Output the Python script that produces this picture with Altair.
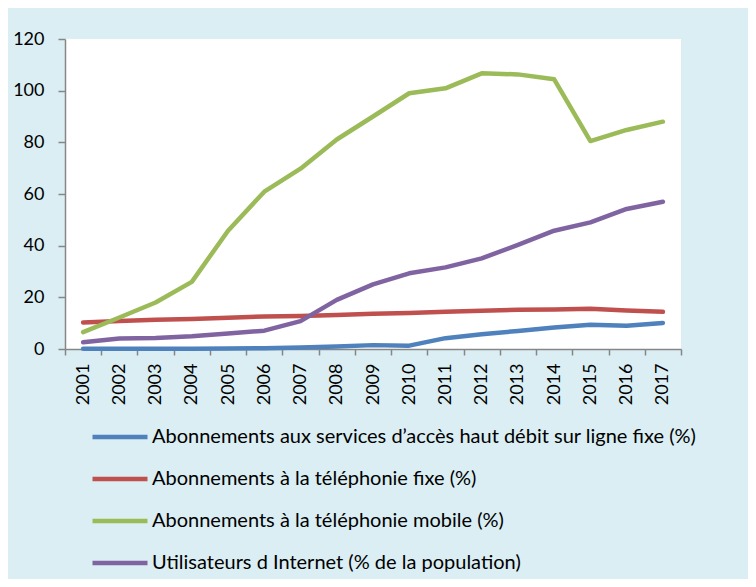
import altair as alt
import pandas as pd

years = [str(y) for y in range(2001, 2018)]

series = [
    "Abonnements aux services d’accès haut débit sur ligne fixe (%)",
    "Abonnements à la téléphonie fixe (%)",
    "Abonnements à la téléphonie mobile (%)",
    "Utilisateurs d Internet (% de la population)",
]

haut_debit = [0.1, 0.1, 0.1, 0.1, 0.2, 0.3, 0.6, 1.0, 1.5, 1.3, 4.2, 5.7, 7.0, 8.3, 9.4, 9.0, 10.1]
fixe = [10.3, 10.8, 11.3, 11.6, 12.1, 12.6, 12.8, 13.2, 13.6, 13.9, 14.4, 14.8, 15.2, 15.3, 15.6, 14.9, 14.4]
mobile = [6.5, 12.2, 18.0, 26.0, 45.8, 60.9, 69.8, 81.1, 90.0, 99.0, 100.9, 106.7, 106.3, 104.4, 80.5, 84.8, 88.0]
internet = [2.6, 4.1, 4.3, 4.9, 6.0, 7.1, 10.8, 19.0, 25.0, 29.3, 31.6, 35.1, 40.3, 45.8, 49.0, 54.2, 57.0]

colors = ["#4F81BD", "#C0504D", "#9BBB59", "#8064A2"]
y_ticks = [0, 20, 40, 60, 80, 100, 120]

rows = []
for name, vals in zip(series, [haut_debit, fixe, mobile, internet]):
    for yr, v in zip(years, vals):
        rows.append({"year": yr, "value": v, "series": name})
df = pd.DataFrame(rows)

FONT = "Lato"
AXIS_COLOR = "#868686"

chart = alt.Chart(df).mark_line(
    strokeWidth=4.5, strokeCap="round", strokeJoin="round"
).encode(
    x=alt.X(
        "year:O",
        sort=years,
        bandPosition=0.5,
        scale=alt.Scale(type="band", paddingInner=0, paddingOuter=0),
        axis=alt.Axis(
            title=None,
            labelAngle=270,
            tickBand="extent",
            labelFont=FONT,
            labelFontSize=18,
            labelColor="#000000",
            labelPadding=8,
            tickSize=6,
            tickColor=AXIS_COLOR,
            domainColor=AXIS_COLOR,
            domainWidth=1.5,
            tickWidth=1.5,
            grid=False,
        ),
    ),
    y=alt.Y(
        "value:Q",
        scale=alt.Scale(domain=[0, 120], nice=False),
        axis=alt.Axis(
            title=None,
            values=y_ticks,
            grid=False,
            labelFont=FONT,
            labelFontSize=18,
            labelColor="#000000",
            labelPadding=14,
            tickSize=7,
            tickColor=AXIS_COLOR,
            domainColor=AXIS_COLOR,
            domainWidth=1.5,
            tickWidth=1.5,
        ),
    ),
    color=alt.Color(
        "series:N",
        sort=series,
        scale=alt.Scale(domain=series, range=colors),
        legend=alt.Legend(
            title=None,
            orient="none",
            legendX=25,
            legendY=368,
            padding=0,
            symbolType="stroke",
            symbolSize=3025,
            symbolStrokeWidth=4.5,
            labelFont=FONT,
            labelFontSize=20,
            labelColor="#000000",
            labelOffset=2,
            labelLimit=700,
            rowPadding=2,
        ),
    ),
).properties(
    width=616,
    height=310,
    autosize=alt.AutoSizeParams(type="none"),
    padding={"left": 57, "top": 31, "right": 67, "bottom": 230},
    background="#DAEEF3",
).configure_view(fill="white", stroke=None)

chart.save("out.html", embed_options={"renderer": "svg", "actions": False})
